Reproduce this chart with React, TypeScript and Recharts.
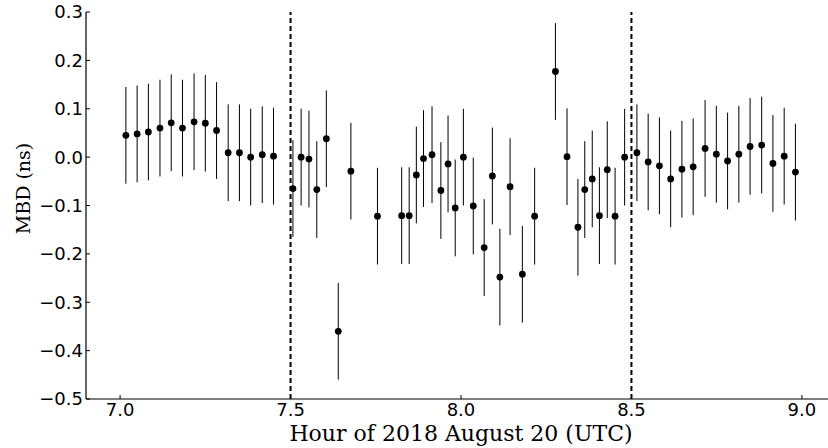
import React from "react";
import {
  ErrorBar,
  Label,
  ReferenceLine,
  Scatter,
  ScatterChart,
  XAxis,
  YAxis,
} from "recharts";

// Hour (UTC) of each scan
const hours = [
  7.017, 7.05, 7.083, 7.117, 7.15, 7.183, 7.217, 7.25, 7.283, 7.317, 7.35, 7.383, 7.417, 7.45,
  7.507, 7.531, 7.554, 7.577, 7.605, 7.64, 7.677, 7.755, 7.826, 7.848,
  7.869, 7.89, 7.915, 7.941, 7.962, 7.983, 8.007, 8.036, 8.068, 8.092,
  8.114, 8.144, 8.18, 8.216, 8.277, 8.311, 8.343, 8.363, 8.385, 8.406,
  8.429, 8.452, 8.48, 8.516, 8.549, 8.582, 8.615, 8.648, 8.681, 8.716,
  8.749, 8.782, 8.815, 8.848, 8.882, 8.915, 8.948, 8.981,
];

// Multiband delay residuals (ns)
const mbd = [
  0.045, 0.048, 0.052, 0.06, 0.071, 0.06, 0.073, 0.07, 0.055, 0.009, 0.009, 0.0, 0.005, 0.002,
  -0.065, 0.0, -0.004, -0.067, 0.038, -0.36, -0.029, -0.122, -0.121, -0.121,
  -0.037, -0.003, 0.005, -0.069, -0.014, -0.105, 0.0, -0.101, -0.187, -0.039,
  -0.248, -0.061, -0.242, -0.122, 0.177, 0.001, -0.145, -0.067, -0.045, -0.121,
  -0.026, -0.122, 0.0, 0.009, -0.01, -0.018, -0.045, -0.025, -0.02, 0.018,
  0.006, -0.008, 0.006, 0.022, 0.025, -0.013, 0.002, -0.031,
];

// 1-sigma uncertainty, the same for every scan
const sigma = 0.1;

const xTicks = [7.0, 7.5, 8.0, 8.5, 9.0];
const yTicks = [-0.5, -0.4, -0.3, -0.2, -0.1, 0.0, 0.1, 0.2, 0.3];
const markers = [7.5, 8.5];

const data = hours.map((h, i) => ({ h, v: mbd[i], err: sigma }));

const tickFont = { fontFamily: "DejaVu Sans", fontSize: 18, fill: "#000" };
const fmt = (v: number) => v.toFixed(1).replace("-", "\u2212");

const Dot = (p: any) => <circle cx={p.cx} cy={p.cy} r={3.4} fill="#000" />;

export default function App() {
  return (
    <div style={{ position: "absolute", left: 0, top: 0, width: 828, height: 448, overflow: "hidden", background: "#fff" }}>
      <ScatterChart width={840} height={448} margin={{ top: 12, right: 4, left: 0, bottom: 0 }}>
        <XAxis
          type="number"
          dataKey="h"
          domain={[6.9, 9.1]}
          ticks={xTicks}
          allowDataOverflow
          height={49}
          tickFormatter={fmt}
          tick={tickFont}
          tickSize={-4}
          tickMargin={8}
          stroke="#000"
          axisLine={{ stroke: "#000", strokeWidth: 1.2 }}
          tickLine={{ stroke: "#000" }}
        >
          <Label
            value="Hour of 2018 August 20 (UTC)"
            position="insideBottom"
            offset={7}
            style={{ fontFamily: "DejaVu Serif", fontSize: 22, fill: "#000" }}
          />
        </XAxis>
        <XAxis
          xAxisId="top"
          orientation="top"
          type="number"
          domain={[6.9, 9.1]}
          ticks={xTicks}
          allowDataOverflow
          height={0}
          tick={false}
          tickSize={-4}
          axisLine={{ stroke: "#000", strokeWidth: 1.2 }}
          tickLine={{ stroke: "#000" }}
        />
        <YAxis
          type="number"
          dataKey="v"
          domain={[-0.5, 0.3]}
          ticks={yTicks}
          allowDataOverflow
          width={86}
          tickFormatter={fmt}
          tick={tickFont}
          tickSize={-4}
          tickMargin={7}
          axisLine={{ stroke: "#000", strokeWidth: 1.2 }}
          tickLine={{ stroke: "#000" }}
        >
          <Label
            content={({ viewBox }: any) => {
              const cx = 23;
              const cy = viewBox.y + viewBox.height / 2 - 17;
              return (
                <text
                  x={cx}
                  y={cy}
                  transform={`rotate(-90 ${cx} ${cy})`}
                  textAnchor="middle"
                  dominantBaseline="central"
                  style={{ fontFamily: "DejaVu Serif", fontSize: 19, fill: "#000" }}
                >
                  MBD (ns)
                </text>
              );
            }}
          />
        </YAxis>
        {markers.map((m) => (
          <ReferenceLine key={m} x={m} stroke="#000" strokeWidth={2} strokeDasharray="5 3" />
        ))}
        <Scatter data={data} shape={Dot} isAnimationActive={false}>
          <ErrorBar dataKey="err" direction="y" width={0} stroke="#000" strokeWidth={1} isAnimationActive={false} />
        </Scatter>
      </ScatterChart>
    </div>
  );
}
